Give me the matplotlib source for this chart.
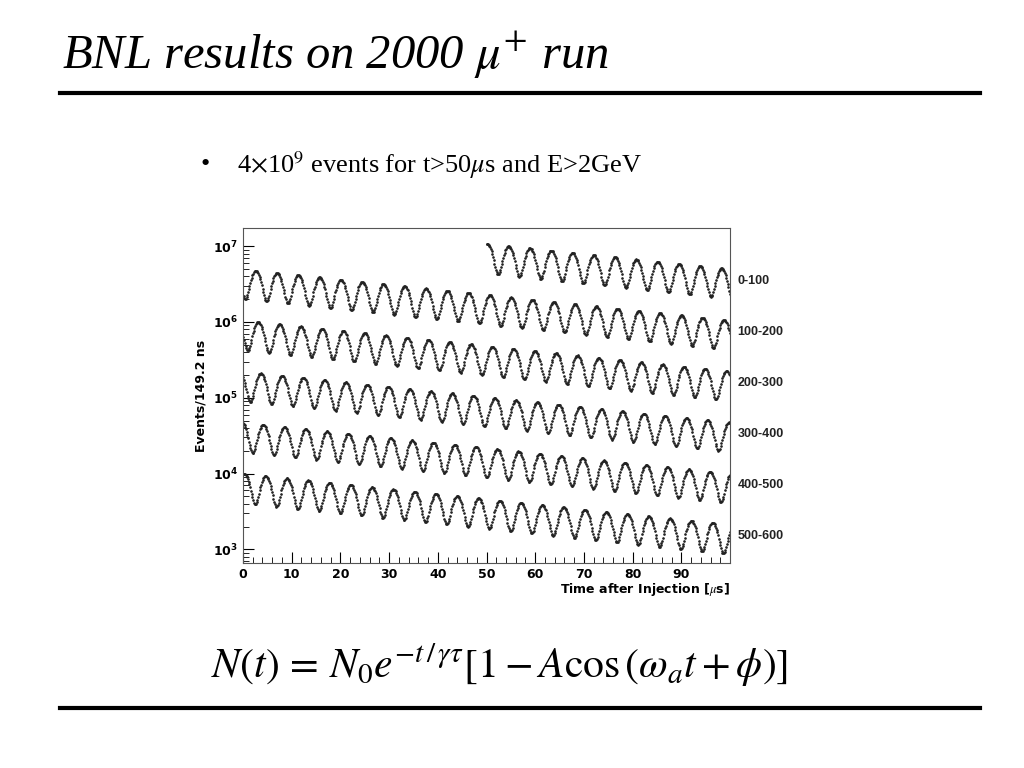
import numpy as np
import matplotlib
matplotlib.use("Agg")
import matplotlib.pyplot as plt

# Fit-model parameters
log_mid_at_50 = 6.88      # log10 midline of counts at t=50 us
decay_log_per_us = 0.00674  # log10 decay per us (gamma*tau ~ 64.4 us)
asym = 0.42
period = 4.37             # us
peak_time = 50.2          # a peak of the oscillation
bin_width = 0.1492        # us
row_labels = ["0-100", "100-200", "200-300", "300-400", "400-500", "500-600"]
x_ticks = [0, 10, 20, 30, 40, 50, 60, 70, 80, 90]

plt.rcParams["mathtext.fontset"] = "stix"
fig = plt.figure(figsize=(10.24, 7.68), dpi=100)

# slide decorations
fig.text(62/1024, 1-55/768, r"BNL results on 2000 $\mu^{+}$ run", fontsize=35,
         family="Liberation Serif", style="italic", va="center")
fig.add_artist(plt.Line2D([60/1024, 980/1024], [1-93/768]*2, color="black", lw=3))
fig.add_artist(plt.Line2D([60/1024, 980/1024], [1-708/768]*2, color="black", lw=3))
fig.text(200/1024, 1-165/768, "•", fontsize=19, family="Liberation Serif", va="center")
fig.text(237/1024, 1-165/768, r"4$\times$10$^{9}$ events for t>50$\mu$s and E>2GeV",
         fontsize=19, family="Liberation Serif", va="center")
fig.text(500/1024, 1-665/768,
         r"$N(t)\,=\,N_0 e^{-t\,/\,\gamma\tau}\left[1 - A\cos\left(\omega_a t + \phi\right)\right]$",
         fontsize=30, ha="center", va="center")

ax = fig.add_axes([243/1024, 1-563/768, 487/1024, 335/768])
ax.set_yscale("log")
t = np.arange(50, 600, bin_width)
logmid = log_mid_at_50 - decay_log_per_us*(t-50)
counts = 10**logmid * (1 + asym*np.cos(2*np.pi*(t-peak_time)/period))
for i in range(6):
    m = (t >= 100*i) & (t < 100*(i+1))
    ax.plot(t[m]-100*i, counts[m], ls="none", marker="o", ms=0.9, color="#222")
    end = 10**(log_mid_at_50 - decay_log_per_us*(100*(i+1)-50))
    ax.text(101.5, end, row_labels[i], fontsize=9, fontweight="bold",
            family="Liberation Sans", va="center", color="#222")
ax.set_xlim(0, 100)
ax.set_ylim(10**2.82, 10**7.24)
ax.set_xticks(x_ticks)
ax.set_xticks(np.arange(0, 100, 2), minor=True)
ax.tick_params(direction="in", labelsize=9, top=False, right=False, length=8)
ax.tick_params(which="minor", direction="in", length=4)
for lab in ax.get_xticklabels() + ax.get_yticklabels():
    lab.set_fontweight("bold")
ax.set_ylabel("Events/149.2 ns", fontsize=9, fontweight="bold")
ax.set_xlabel(r"Time after Injection [$\mu$s]", fontsize=9, fontweight="bold", loc="right", labelpad=0)
for s in ax.spines.values():
    s.set_color("#555")

fig.savefig("out.png", dpi=100)
